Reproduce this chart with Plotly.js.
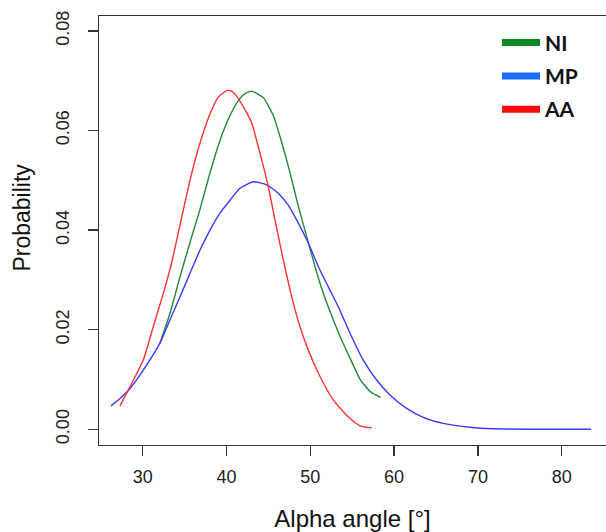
<!DOCTYPE html>
<html>
<head>
<meta charset="utf-8">
<script src="https://cdn.plot.ly/plotly-3.0.1.min.js"></script>
<style>html,body{margin:0;padding:0;background:#fff;}#chart{width:606px;height:532px;}</style>
</head>
<body>
<div id="chart"></div>
<script>
// Series names (legend categories)
const seriesNames = ["NI", "MP", "AA"];

// NI (green) density curve
const niX = [32.06, 33.26, 34.45, 35.64, 36.84, 38.03, 39.22, 40.42, 41.41, 42.20, 43.01, 44.39, 45.58, 46.59, 47.58, 48.57, 49.57, 50.56, 51.55, 52.74, 53.75, 54.74, 55.93, 57.13, 58.40];
const niY = [0.0173, 0.0233, 0.0306, 0.0375, 0.0442, 0.0515, 0.0580, 0.0630, 0.0660, 0.0674, 0.0679, 0.0666, 0.0630, 0.0576, 0.0515, 0.0448, 0.0387, 0.0327, 0.0273, 0.0220, 0.0179, 0.0143, 0.0101, 0.0076, 0.0064];

// MP (blue) density curve
const mpX = [26.22, 27.29, 28.49, 30.07, 32.06, 33.26, 34.45, 35.64, 36.84, 38.03, 39.22, 40.42, 41.61, 43.20, 44.80, 46.18, 47.37, 48.57, 49.76, 50.95, 52.15, 53.34, 54.74, 56.32, 57.92, 59.51, 61.50, 63.48, 65.87, 69.06, 71.84, 83.50];
const mpY = [0.0047, 0.0062, 0.0082, 0.0119, 0.0173, 0.0220, 0.0266, 0.0313, 0.0360, 0.0400, 0.0434, 0.0460, 0.0484, 0.0497, 0.0491, 0.0474, 0.0450, 0.0414, 0.0374, 0.0327, 0.0286, 0.0246, 0.0193, 0.0139, 0.0099, 0.0069, 0.0042, 0.0024, 0.0012, 0.0004, 0.0001, 0.0000];

// AA (red) density curve
const aaX = [27.29, 28.69, 30.07, 31.26, 32.46, 33.46, 34.45, 35.64, 36.84, 38.03, 39.02, 40.02, 40.60, 41.01, 42.00, 43.01, 44.00, 44.99, 45.79, 46.78, 47.78, 48.77, 49.76, 51.16, 52.74, 54.53, 55.93, 57.33];
const aaY = [0.0047, 0.0092, 0.0139, 0.0206, 0.0273, 0.0335, 0.0410, 0.0500, 0.0575, 0.0633, 0.0667, 0.0680, 0.0679, 0.0673, 0.0648, 0.0615, 0.0554, 0.0487, 0.0420, 0.0340, 0.0266, 0.0206, 0.0159, 0.0106, 0.0059, 0.0025, 0.0007, 0.0003];

// Axis ticks
const xTicks = [30, 40, 50, 60, 70, 80];
const yTicks = [0.00, 0.02, 0.04, 0.06, 0.08];
const yTickText = ["0.00", "0.02", "0.04", "0.06", "0.08"];

const curveColors = ["#23883a", "#3a3aff", "#ff3232"];
const legendColors = ["#0b8a22", "#1a6cff", "#ff0a0a"];

const curves = [[niX, niY], [mpX, mpY], [aaX, aaY]];
const traces = [];
curves.forEach((c, i) => {
  traces.push({
    type: "scatter", mode: "lines", x: c[0], y: c[1],
    line: {color: curveColors[i], width: 1.4, shape: "spline", smoothing: 0.5},
    showlegend: false, hoverinfo: "skip"
  });
});
seriesNames.forEach((n, i) => {
  traces.push({
    type: "scatter", mode: "lines", x: [null], y: [null], name: n,
    legendgroup: "g" + i,
    line: {color: legendColors[i], width: 7}, showlegend: true
  });
});

const axisFont = {family: "Liberation Sans, Arial, sans-serif", size: 18, color: "#222"};

const layout = {
  width: 606, height: 532,
  margin: {l: 99, r: 0, t: 16, b: 87},
  paper_bgcolor: "#fff", plot_bgcolor: "#fff",
  showlegend: true,
  legend: {
    x: 0.785, xanchor: "left", y: 0.985, yanchor: "top",
    bgcolor: "rgba(0,0,0,0)", borderwidth: 0,
    font: {family: "Lato, Liberation Sans, sans-serif", size: 21, color: "#111", weight: "bold"},
    itemwidth: 38, tracegroupgap: 3
  },
  xaxis: {
    range: [24.785, 85.287], tickvals: xTicks, ticktext: xTicks.map(String),
    ticks: "outside", ticklen: 10, tickwidth: 1.3, tickcolor: "#333", ticklabelstandoff: 5,
    showline: true, linecolor: "#333", linewidth: 1.3, mirror: true,
    showgrid: false, zeroline: false, tickfont: axisFont,
    title: {text: "Alpha angle [°]", font: {family: "Liberation Sans, Arial, sans-serif", size: 24, color: "#111"}}
  },
  yaxis: {
    range: [-0.00315, 0.08299], tickvals: yTicks, ticktext: yTickText,
    ticks: "outside", ticklen: 10, tickwidth: 1.3, tickcolor: "#333", tickangle: -90, ticklabelstandoff: 12,
    showline: true, linecolor: "#333", linewidth: 1.3, mirror: false,
    showgrid: false, zeroline: false, tickfont: axisFont
  },
  annotations: [{
    text: "Probability", xref: "paper", yref: "paper", x: -0.152, y: 0.53,
    xanchor: "center", yanchor: "middle", textangle: -90, showarrow: false,
    font: {family: "Liberation Sans, Arial, sans-serif", size: 23, color: "#111"}
  }]
};

Plotly.newPlot("chart", traces, layout, {displayModeBar: false, staticPlot: true});
</script>
</body>
</html>
